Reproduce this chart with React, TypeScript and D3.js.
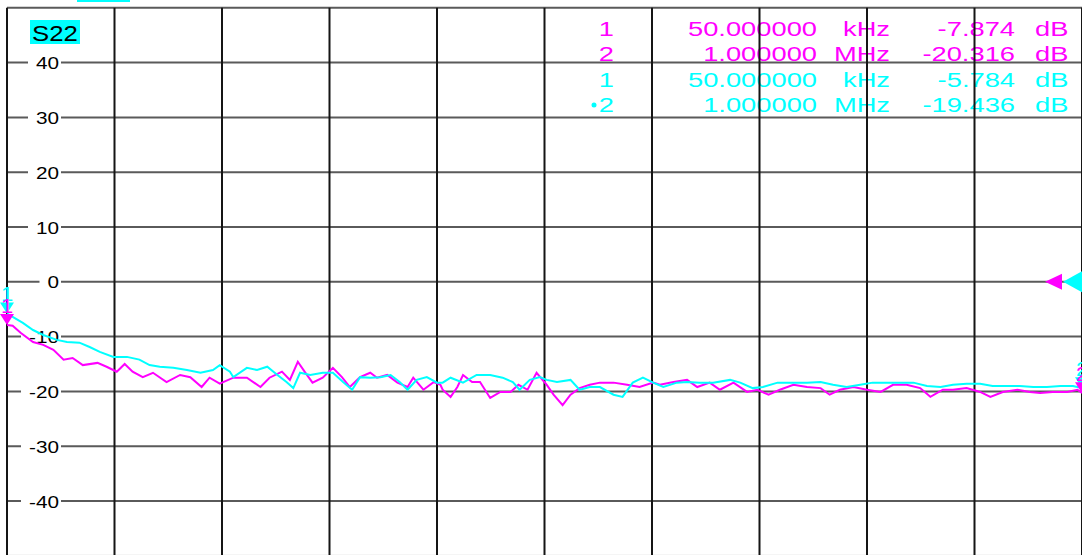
import React from "react";
import * as d3 from "d3";

// sweep 50 kHz .. 1 MHz, frequencies in kHz, levels in dB
const magentaFreq = [50, 55, 62, 73, 82, 91, 100, 108, 117, 130, 138, 147, 154, 161, 170, 179, 191, 203, 212, 222, 229, 238, 250, 262, 274, 282, 293, 300, 307, 313, 320, 329, 338, 346, 353, 362, 371, 377, 386, 395, 404, 409, 418, 427, 433, 435, 442, 448, 453, 461, 468, 477, 486, 495, 502, 510, 518, 527, 533, 541, 548, 556, 565, 574, 586, 598, 609, 621, 627, 639, 651, 660, 671, 680, 692, 704, 713, 723, 733, 745, 757, 769, 777, 786, 798, 810, 822, 833, 845, 857, 866, 877, 886, 898, 910, 919, 930, 943, 954, 963, 974, 987, 996, 1000];
const magentaDb = [-7.9, -8.0, -9.3, -11.0, -11.5, -12.4, -14.2, -13.9, -15.2, -14.8, -15.5, -16.4, -15.0, -16.4, -17.4, -16.6, -18.3, -17.0, -17.4, -19.2, -17.5, -18.6, -17.5, -17.5, -19.2, -17.5, -16.4, -17.9, -14.6, -16.4, -18.4, -17.5, -15.7, -17.4, -19.2, -17.4, -16.6, -17.5, -17.0, -18.4, -19.2, -17.5, -19.7, -18.3, -18.8, -19.7, -21.0, -19.2, -17.0, -18.3, -18.3, -21.2, -20.1, -20.1, -18.8, -19.7, -16.6, -18.8, -20.6, -22.5, -20.6, -19.4, -18.8, -18.4, -18.4, -18.8, -19.2, -18.4, -18.8, -18.3, -17.9, -19.2, -18.4, -19.7, -18.4, -20.1, -19.7, -20.6, -19.7, -18.8, -19.2, -19.4, -20.6, -19.7, -19.2, -19.7, -20.1, -18.8, -18.8, -19.4, -21.0, -19.7, -19.7, -19.4, -20.1, -21.0, -20.1, -19.7, -20.1, -20.3, -20.1, -20.1, -19.7, -20.3];

const cyanFreq = [50, 55, 64, 73, 82, 94, 103, 114, 123, 132, 144, 156, 167, 176, 185, 197, 209, 221, 232, 238, 247, 250, 262, 271, 280, 289, 297, 303, 309, 318, 329, 338, 347, 355, 362, 371, 380, 389, 397, 404, 412, 421, 430, 435, 442, 453, 465, 477, 488, 497, 503, 512, 521, 527, 536, 548, 556, 565, 574, 586, 594, 603, 612, 621, 630, 642, 651, 662, 674, 689, 698, 709, 718, 731, 745, 757, 769, 780, 792, 804, 815, 828, 839, 851, 863, 875, 886, 898, 910, 921, 934, 945, 957, 969, 981, 992, 1000];
const cyanDb = [-5.8, -6.4, -7.5, -8.8, -9.7, -10.6, -11.0, -11.1, -11.9, -12.8, -13.7, -13.7, -14.2, -15.2, -15.5, -15.7, -16.1, -16.6, -16.1, -15.2, -16.4, -17.4, -15.7, -16.1, -15.5, -17.0, -18.3, -19.4, -16.6, -17.0, -16.6, -16.6, -18.3, -19.7, -17.4, -17.5, -17.4, -17.0, -18.3, -19.7, -17.9, -17.4, -18.4, -18.4, -17.5, -18.4, -17.0, -17.0, -17.5, -18.3, -19.7, -17.9, -17.4, -17.9, -18.3, -17.9, -19.7, -19.2, -19.2, -20.6, -21.0, -18.4, -17.5, -18.4, -19.2, -18.4, -18.3, -18.4, -18.4, -17.9, -18.4, -19.4, -19.2, -18.4, -18.4, -18.4, -18.3, -18.8, -19.2, -18.8, -18.4, -18.4, -18.4, -18.4, -19.0, -19.2, -18.8, -18.6, -18.6, -19.0, -19.0, -19.0, -19.2, -19.2, -19.0, -19.0, -19.4];

const yTicks = [40, 30, 20, 10, 0, -10, -20, -30, -40];

// marker table
const markerIds = ["1", "2"];
const markerFreqText = ["50.000000", "1.000000"];
const markerUnits = ["kHz", "MHz"];
const markerFreqKHz = [50, 1000];
const magentaMarkerText = ["-7.874", "-20.316"];
const cyanMarkerText = ["-5.784", "-19.436"];

const MAGENTA = "#ff00ff";
const CYAN = "#00ffff";
const FONT = "'Liberation Sans', Arial, sans-serif";

const W = 1082;
const H = 555;

function Txt({ x, y, sx = 1, size, fill = "#000", anchor = "start", children }: any) {
  return (
    <text
      transform={`translate(${x},${y}) scale(${sx},1)`}
      fontSize={size}
      fill={fill}
      textAnchor={anchor}
      fontFamily={FONT}
    >
      {children}
    </text>
  );
}

export default function App() {
  const x = d3.scaleLinear().domain([50, 1000]).range([7, 1082]);
  const y = d3.scaleLinear().domain([-50, 50]).range([555.8, 7.8]);

  const line = d3
    .line<[number, number]>()
    .x((d) => x(d[0]))
    .y((d) => y(d[1]));

  const magenta = magentaFreq.map((f, i) => [f, magentaDb[i]] as [number, number]);
  const cyan = cyanFreq.map((f, i) => [f, cyanDb[i]] as [number, number]);

  const vLines = d3.range(11).map((i) => x(50 + i * 95));
  const hLines = d3.range(-50, 51, 10);

  const rowY = [36, 61, 87, 112];
  const tableRows = [
    ...markerIds.map((id, i) => ({ id, f: markerFreqText[i], u: markerUnits[i], v: magentaMarkerText[i], c: MAGENTA, active: false })),
    ...markerIds.map((id, i) => ({ id, f: markerFreqText[i], u: markerUnits[i], v: cyanMarkerText[i], c: CYAN, active: i === 1 })),
  ];

  const labelWidth = (s: string) => s.replace("-", "").length * 11.5 + (s.startsWith("-") ? 7 : 0);

  const downTri = (cx: number, cy: number, c: string) => (
    <path d={`M${cx},${cy} L${cx - 7},${cy - 11} L${cx + 7},${cy - 11} Z`} fill={c} />
  );

  const markers = [
    { c: CYAN, vals: cyanMarkerText },
    { c: MAGENTA, vals: magentaMarkerText },
  ];

  return (
    <svg
      width={W}
      height={H}
      style={{ position: "fixed", left: 0, top: 0, background: "#fff" }}
    >
      <rect x={0} y={0} width={W} height={H} fill="#fff" />
      <rect x={77} y={0} width={53} height={2} fill={CYAN} />

      {/* marker table */}
      {tableRows.map((r, i) => (
        <g key={i}>
          <Txt x={614} y={rowY[i]} sx={1.3} size={21} fill={r.c} anchor="end">{r.id}</Txt>
          {r.active && <circle cx={594} cy={rowY[i] - 7} r={2.5} fill={r.c} />}
          <Txt x={817} y={rowY[i]} sx={1.3} size={21} fill={r.c} anchor="end">{r.f}</Txt>
          <Txt x={890} y={rowY[i]} sx={1.3} size={21} fill={r.c} anchor="end">{r.u}</Txt>
          <Txt x={1015} y={rowY[i]} sx={1.3} size={21} fill={r.c} anchor="end">{r.v}</Txt>
          <Txt x={1035} y={rowY[i]} sx={1.3} size={21} fill={r.c}>dB</Txt>
        </g>
      ))}

      {/* grid */}
      {hLines.map((v) => (
        <line key={v} x1={7} x2={W} y1={y(v)} y2={y(v)} stroke={v === -50 ? "#d8d8d8" : "#5a5a5a"} strokeWidth={2} />
      ))}
      {vLines.map((vx, i) => (
        <line key={i} x1={vx} x2={vx} y1={y(50)} y2={y(-50)} stroke="#151515" strokeWidth={2} />
      ))}

      {/* y labels */}
      {yTicks.map((t) => {
        const s = String(t);
        const w = labelWidth(s);
        return (
          <g key={t}>
            <rect x={59 - w - 8} y={y(t) - 8} width={w + 10} height={16} fill="#fff" />
            <Txt x={59} y={y(t) + 6.5} sx={1.22} size={17} anchor="end">{s}</Txt>
          </g>
        );
      })}

      {/* trace name */}
      <rect x={30} y={20} width={50} height={24} fill={CYAN} />
      <Txt x={55} y={41} sx={1.12} size={23} anchor="middle">S22</Txt>

      {/* traces */}
      <path d={line(magenta) || ""} fill="none" stroke={MAGENTA} strokeWidth={2} />
      <path d={line(cyan) || ""} fill="none" stroke={CYAN} strokeWidth={2} />

      {/* markers 1 and 2 */}
      {markers.map((m, k) =>
        markerFreqKHz.map((f, i) => {
          const mx = x(f);
          const my = y(parseFloat(m.vals[i]));
          return (
            <g key={`${k}-${i}`}>
              {downTri(mx, my, m.c)}
              <Txt x={mx} y={my - 12} sx={1.1} size={20} fill={m.c} anchor="middle">{markerIds[i]}</Txt>
            </g>
          );
        })
      )}

      {/* reference level markers */}
      <path d={`M${x(1000) - 19},${y(0)} L${x(1000) + 1},${y(0) - 11} L${x(1000) + 1},${y(0) + 11} Z`} fill={CYAN} />
      <path d={`M${x(1000) - 37},${y(0)} L${x(1000) - 20},${y(0) - 8} L${x(1000) - 20},${y(0) + 8} Z`} fill={MAGENTA} />
    </svg>
  );
}
